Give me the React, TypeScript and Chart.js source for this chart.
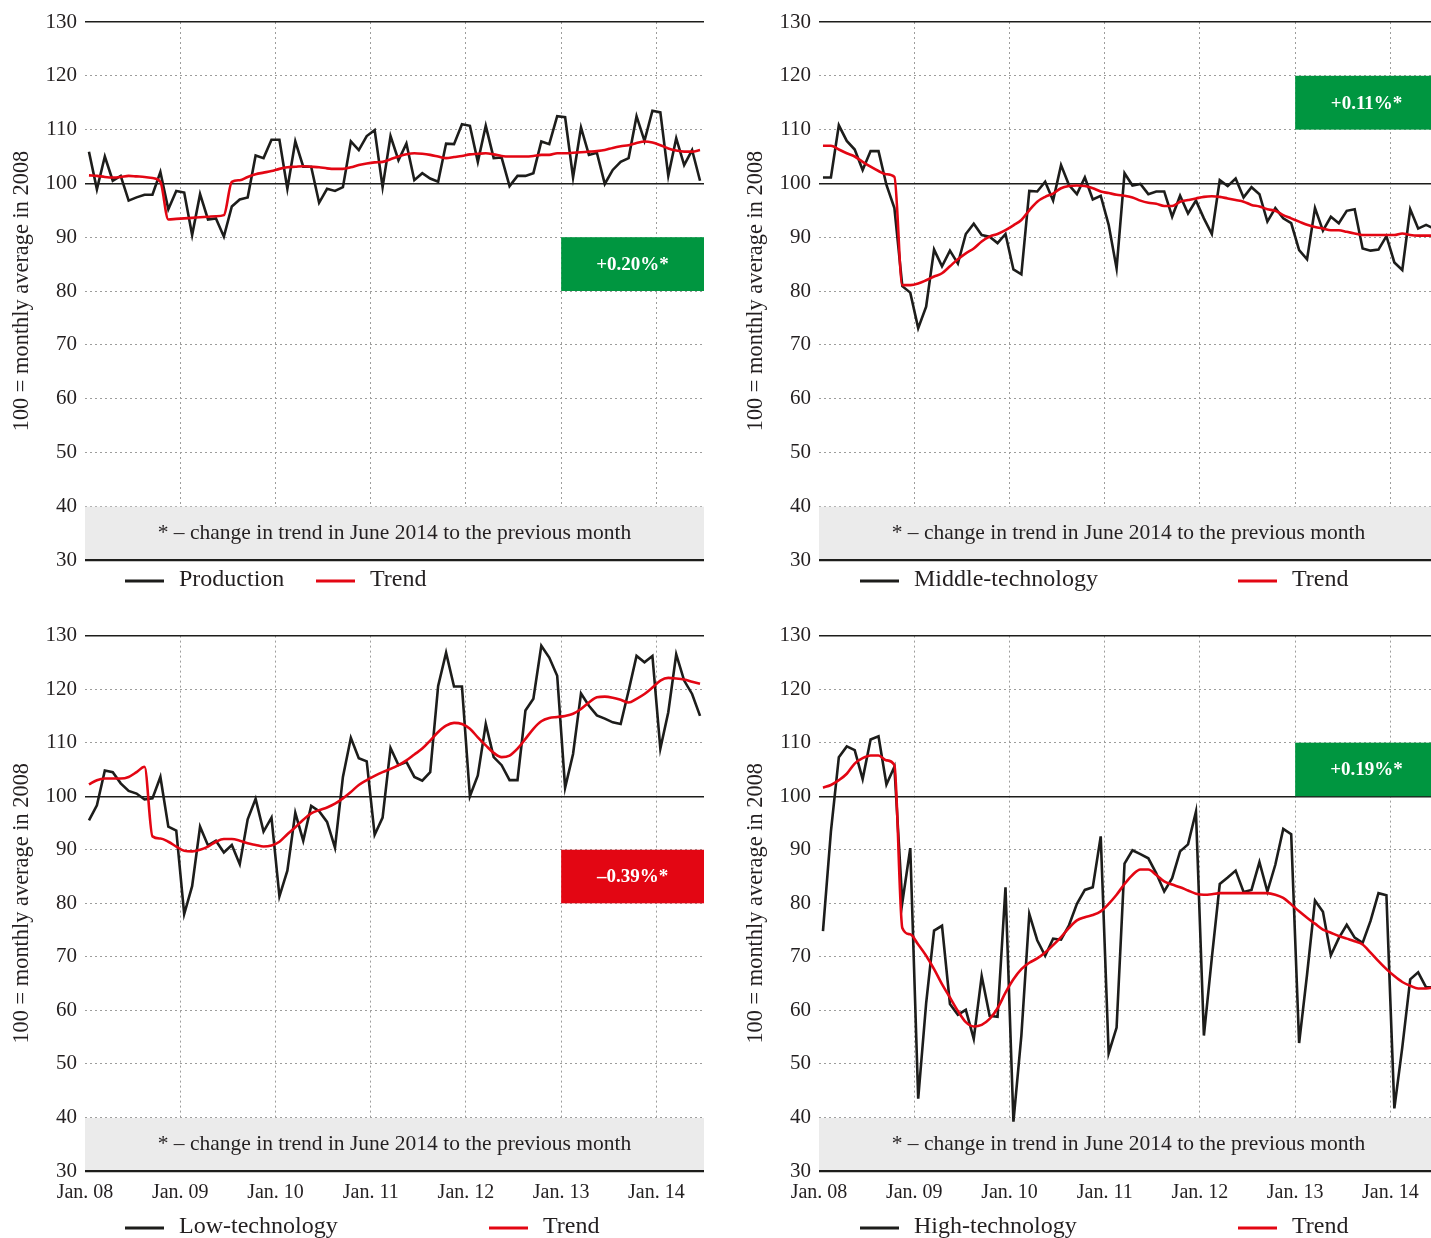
import React, { useEffect, useRef } from 'react';
import { Chart, registerables } from 'chart.js';

Chart.register(...registerables);

const FONT = "'Liberation Serif', 'Times New Roman', Times, serif";
const INK = '#231f20';
const LINE_BLACK = '#1d1d1b';
const LINE_RED = '#e30613';
const GREEN = '#009640';
const GRID = '#9d9d9c';

// ---------- axis definitions ----------
const X_TICK_POSITIONS = [0, 12, 24, 36, 48, 60, 72];
const X_TICK_LABELS = ['Jan. 08', 'Jan. 09', 'Jan. 10', 'Jan. 11', 'Jan. 12', 'Jan. 13', 'Jan. 14'];
const X_MAX = 78; // months Jan 2008 .. Jun 2014
const Y_MIN = 30;
const Y_MAX = 130;
const Y_STEP = 10;
const Y_AXIS_TITLE = '100 = monthly average in 2008';
const FOOTNOTE = '* – change in trend in June 2014 to the previous month';
const TREND_NAME = 'Trend';

// ---------- series (monthly, Jan 2008 .. Jun 2014) ----------
const PRODUCTION = [
  105.9, 98.9, 105.0, 100.5, 101.4, 96.8, 97.4, 97.9, 97.9, 102.1, 95.2, 98.6,
  98.3, 90.4, 98.0, 93.3, 93.5, 90.1, 95.7, 97.0, 97.4, 105.2, 104.7, 108.1,
  108.1, 99.0, 107.8, 103.1, 103.1, 96.4, 99.0, 98.6, 99.3, 107.8, 106.2, 108.8,
  109.9, 99.3, 108.8, 104.3, 107.4, 100.6, 101.9, 100.9, 100.3, 107.4, 107.3, 111.0,
  110.7, 104.0, 110.7, 104.7, 104.8, 99.5, 101.4, 101.4, 101.9, 107.8, 107.3, 112.5,
  112.3, 101.1, 110.4, 105.3, 105.7, 99.9, 102.5, 104.0, 104.7, 112.5, 107.9, 113.5,
  113.2, 101.4, 108.4, 103.4, 106.2, 100.5,
];
const PRODUCTION_TREND = [
  101.5, 101.4, 101.2, 101.1, 101.2, 101.4, 101.3, 101.2, 101.0, 100.3, 93.3, 93.4,
  93.5, 93.6, 93.7, 93.8, 93.9, 94.1, 100.3, 100.6, 101.2, 101.7, 102.0, 102.3,
  102.7, 103.0, 103.1, 103.2, 103.1, 103.0, 102.8, 102.7, 102.7, 103.0, 103.4, 103.7,
  103.9, 104.0, 104.5, 105.0, 105.4, 105.6, 105.5, 105.3, 105.0, 104.7, 104.9, 105.1,
  105.4, 105.5, 105.6, 105.4, 105.1, 105.0, 105.0, 105.0, 105.1, 105.3, 105.3, 105.6,
  105.6, 105.7, 105.8, 105.9, 106.0, 106.2, 106.6, 106.9, 107.1, 107.5, 107.8, 107.6,
  107.1, 106.5, 106.1, 105.9, 105.9, 106.2,
];
const MIDDLE_TECH = [
  101.1, 101.1, 110.8, 107.9, 106.3, 102.5, 106.0, 106.0, 99.7, 95.4, 80.9, 79.7,
  73.1, 77.1, 87.7, 84.6, 87.5, 85.1, 90.6, 92.5, 90.4, 90.1, 88.9, 90.6,
  84.0, 83.1, 98.6, 98.5, 100.3, 96.8, 103.4, 99.7, 98.0, 101.1, 97.0, 97.7,
  92.3, 84.2, 101.9, 99.6, 99.9, 98.0, 98.5, 98.5, 93.8, 97.7, 94.4, 96.8,
  93.5, 90.6, 100.6, 99.5, 100.9, 97.4, 99.3, 98.0, 92.9, 95.4, 93.5, 92.6,
  87.6, 85.9, 95.4, 91.2, 93.8, 92.6, 94.9, 95.2, 87.9, 87.5, 87.7, 90.2,
  85.3, 83.9, 95.2, 91.6, 92.3, 91.6,
];
const MIDDLE_TREND = [
  107.0, 107.0, 106.3, 105.6, 105.0, 104.0, 103.1, 102.3, 101.7, 101.2, 81.1, 81.1,
  81.4, 82.0, 82.7, 83.3, 84.6, 85.9, 87.0, 87.9, 89.2, 90.1, 90.6, 91.3,
  92.2, 93.2, 95.0, 96.6, 97.5, 98.1, 99.1, 99.5, 99.6, 99.5, 99.1, 98.5,
  98.2, 97.9, 97.7, 97.4, 96.8, 96.4, 96.2, 95.8, 95.8, 96.6, 96.9, 97.2,
  97.5, 97.6, 97.5, 97.2, 96.9, 96.6, 96.0, 95.7, 95.2, 94.9, 94.1, 93.5,
  92.9, 92.3, 91.9, 91.6, 91.3, 91.3, 91.0, 90.7, 90.4, 90.4, 90.4, 90.4,
  90.4, 90.7, 90.4, 90.3, 90.3, 90.3,
];
const LOW_TECH = [
  95.5, 98.3, 104.8, 104.5, 102.4, 101.0, 100.5, 99.4, 99.6, 103.6, 94.3, 93.6,
  78.0, 83.2, 94.3, 90.8, 91.7, 89.5, 90.9, 87.3, 95.7, 99.5, 93.4, 96.0,
  81.3, 86.1, 96.9, 91.7, 98.2, 97.2, 95.2, 90.4, 103.6, 110.9, 107.1, 106.5,
  92.8, 96.0, 109.0, 105.8, 106.4, 103.6, 102.9, 104.5, 120.6, 126.8, 120.5, 120.5,
  100.0, 103.9, 113.5, 107.3, 105.8, 103.0, 103.0, 116.0, 118.2, 128.1, 125.9, 122.5,
  101.6, 107.9, 119.2, 116.9, 115.1, 114.5, 113.8, 113.5, 119.7, 126.2, 125.0, 126.2,
  108.9, 115.7, 126.5, 121.6, 119.1, 115.0,
];
const LOW_TREND = [
  102.2, 103.0, 103.3, 103.3, 103.3, 103.6, 104.5, 105.5, 92.5, 92.1, 91.5, 90.6,
  89.8, 89.7, 90.0, 90.6, 91.5, 92.0, 92.0, 91.7, 91.2, 90.9, 90.6, 90.8,
  91.5, 92.9, 94.2, 95.6, 96.8, 97.4, 97.9, 98.6, 99.6, 100.8, 102.1, 103.0,
  103.8, 104.5, 105.1, 105.8, 106.7, 107.8, 108.9, 110.4, 112.0, 113.2, 113.7, 113.5,
  112.6, 111.0, 109.5, 108.1, 107.3, 107.6, 108.9, 110.7, 112.6, 114.0, 114.6, 114.8,
  115.0, 115.4, 116.3, 117.5, 118.5, 118.6, 118.4, 118.0, 117.5, 118.2, 119.1, 120.3,
  121.6, 122.1, 122.0, 121.8, 121.4, 121.0,
];
const HIGH_TECH = [
  74.8, 93.4, 107.3, 109.3, 108.6, 103.2, 110.6, 111.2, 102.2, 105.5, 80.1, 90.3,
  43.5, 61.3, 74.9, 75.8, 61.2, 59.2, 60.1, 54.7, 66.4, 59.0, 58.8, 83.0,
  39.2, 55.3, 78.0, 73.1, 70.2, 73.4, 73.2, 75.9, 79.9, 82.5, 83.0, 92.5,
  52.0, 56.8, 87.4, 89.9, 89.2, 88.4, 85.6, 82.2, 84.7, 89.7, 91.0, 97.1,
  55.3, 69.8, 83.6, 84.8, 86.1, 82.1, 82.5, 87.7, 82.2, 87.2, 93.9, 92.9,
  53.9, 66.7, 80.5, 78.4, 70.3, 73.5, 76.0, 73.6, 72.6, 76.7, 81.9, 81.5,
  41.7, 53.1, 65.8, 67.1, 64.3, 64.3,
];
const HIGH_TREND = [
  101.6, 102.1, 103.0, 104.2, 106.1, 107.1, 107.6, 107.6, 106.7, 105.8, 75.4, 74.2,
  72.3, 70.2, 67.7, 64.9, 62.4, 59.9, 57.8, 57.0, 57.3, 58.4, 60.4, 63.3,
  65.8, 67.7, 68.9, 69.7, 70.8, 72.2, 73.7, 75.4, 76.8, 77.4, 77.8, 78.5,
  79.9, 81.6, 83.6, 85.3, 86.3, 86.3, 85.3, 84.1, 83.5, 83.0, 82.4, 81.8,
  81.6, 81.7, 81.9, 81.9, 81.9, 81.9, 81.9, 81.9, 81.9, 81.6, 81.0, 79.8,
  78.5, 77.3, 76.2, 75.1, 74.5, 73.9, 73.4, 72.9, 72.3, 70.8, 69.2, 67.7,
  66.4, 65.3, 64.6, 64.1, 64.1, 64.3,
];

// badges: label, range on y, start/end month on x
const BADGE_LABELS = ['+0.20%*', '+0.11%*', '–0.39%*', '+0.19%*'];
const BADGE_Y_RANGES = [[80, 90], [110, 120], [80, 90], [100, 110]];
const BADGE_X_RANGE = [60, 78];
const FOOT_BOX_RANGE = [30, 40];

type Legend = { y: number; s1: [number, number]; t1: number; s2: [number, number]; t2: number };
type PanelProps = {
  left: number; top: number; width: number; height: number;
  pad: { left: number; right: number; top: number; bottom: number };
  xHeight: number;
  showX: boolean;
  seriesName: string;
  series: number[];
  trend: number[];
  badgeText: string;
  badgeColor: string;
  badgeRange: number[];
  legend: Legend;
};

function Panel(p: PanelProps) {
  const ref = useRef<HTMLCanvasElement>(null);
  useEffect(() => {
    const canvas = ref.current;
    if (!canvas) return;
    const special = (v: number) => v === 30 || v === 100 || v === 130;

    const overlay = {
      id: 'overlay',
      beforeDatasetsDraw(chart: any) {
        const { ctx, chartArea, scales } = chart;
        const yTop = scales.y.getPixelForValue(FOOT_BOX_RANGE[1]);
        const yBot = scales.y.getPixelForValue(FOOT_BOX_RANGE[0]);
        ctx.save();
        ctx.fillStyle = '#ebebeb';
        ctx.fillRect(chartArea.left, yTop + 0.5, chartArea.right - chartArea.left, yBot - yTop - 1.5);
        ctx.fillStyle = INK;
        ctx.font = `21.5px ${FONT}`;
        ctx.textAlign = 'center';
        ctx.textBaseline = 'middle';
        ctx.fillText(FOOTNOTE, (chartArea.left + chartArea.right) / 2, (yTop + yBot) / 2);
        ctx.restore();
      },
      afterDatasetsDraw(chart: any) {
        const { ctx, scales } = chart;
        const x0 = scales.x.getPixelForValue(BADGE_X_RANGE[0]);
        const x1 = scales.x.getPixelForValue(BADGE_X_RANGE[1]);
        const y0 = scales.y.getPixelForValue(p.badgeRange[1]);
        const y1 = scales.y.getPixelForValue(p.badgeRange[0]);
        ctx.save();
        ctx.fillStyle = p.badgeColor;
        ctx.fillRect(x0, y0, x1 - x0, y1 - y0);
        ctx.fillStyle = '#ffffff';
        ctx.font = `bold 19px ${FONT}`;
        ctx.textAlign = 'center';
        ctx.textBaseline = 'middle';
        ctx.fillText(p.badgeText, (x0 + x1) / 2, (y0 + y1) / 2 + 1);
        ctx.restore();
      },
      afterDraw(chart: any) {
        const { ctx } = chart;
        const L = p.legend;
        ctx.save();
        ctx.lineWidth = 3;
        ctx.strokeStyle = LINE_BLACK;
        ctx.beginPath();
        ctx.moveTo(L.s1[0], L.y + 1);
        ctx.lineTo(L.s1[1], L.y + 1);
        ctx.stroke();
        ctx.strokeStyle = LINE_RED;
        ctx.beginPath();
        ctx.moveTo(L.s2[0], L.y + 1);
        ctx.lineTo(L.s2[1], L.y + 1);
        ctx.stroke();
        ctx.fillStyle = INK;
        ctx.font = `24px ${FONT}`;
        ctx.textAlign = 'left';
        ctx.textBaseline = 'middle';
        ctx.fillText(p.seriesName, L.t1, L.y);
        ctx.fillText(TREND_NAME, L.t2, L.y);
        ctx.restore();
      },
    };

    const chart = new Chart(canvas, {
      type: 'line',
      data: {
        datasets: [
          {
            label: p.seriesName,
            data: p.series.map((v, i) => ({ x: i + 0.5, y: v })),
            borderColor: LINE_BLACK,
            borderWidth: 2.6,
            pointRadius: 0,
            tension: 0,
            order: 2,
          },
          {
            label: TREND_NAME,
            data: p.trend.map((v, i) => ({ x: i + 0.5, y: v })),
            borderColor: LINE_RED,
            borderWidth: 2.6,
            pointRadius: 0,
            cubicInterpolationMode: 'monotone',
            order: 1,
          },
        ],
      },
      options: {
        animation: false,
        responsive: false,
        maintainAspectRatio: false,
        devicePixelRatio: 1,
        layout: { padding: p.pad },
        plugins: { legend: { display: false }, tooltip: { enabled: false } },
        scales: {
          x: {
            type: 'linear',
            min: 0,
            max: X_MAX,
            afterBuildTicks: (s: any) => {
              s.ticks = X_TICK_POSITIONS.map((v) => ({ value: v }));
            },
            afterFit: (s: any) => {
              s.height = p.xHeight;
            },
            ticks: {
              display: p.showX,
              autoSkip: false,
              maxRotation: 0,
              padding: 10,
              color: INK,
              font: { family: FONT, size: 20 },
              callback: (v: any) => X_TICK_LABELS[X_TICK_POSITIONS.indexOf(Number(v))] ?? '',
            },
            grid: {
              drawTicks: false,
              color: (c: any) => (c.tick && c.tick.value === 0 ? 'rgba(0,0,0,0)' : GRID),
              lineWidth: 1,
            },
            border: { display: false, dash: [2, 3] },
          },
          y: {
            type: 'linear',
            min: Y_MIN,
            max: Y_MAX,
            afterFit: (s: any) => {
              s.width = 85;
            },
            ticks: {
              stepSize: Y_STEP,
              padding: 8,
              color: INK,
              font: { family: FONT, size: 21 },
            },
            title: {
              display: true,
              text: Y_AXIS_TITLE,
              color: INK,
              font: { family: FONT, size: 22.4 },
              padding: { top: 9, bottom: 0 },
            },
            grid: {
              drawTicks: false,
              color: (c: any) => (c.tick && special(c.tick.value) ? LINE_BLACK : GRID),
              lineWidth: (c: any) =>
                c.tick && c.tick.value === 30 ? 2.2 : c.tick && special(c.tick.value) ? 1.4 : 1,
            },
            border: {
              display: false,
              dash: (c: any) => (c.tick && special(c.tick.value) ? [] : [2, 3]),
            },
          },
        },
      } as any,
      plugins: [overlay],
    });
    return () => chart.destroy();
  }, []);

  return (
    <canvas
      ref={ref}
      width={p.width}
      height={p.height}
      style={{ position: 'absolute', left: p.left, top: p.top, width: p.width, height: p.height, display: 'block' }}
    />
  );
}

export default function App() {
  useEffect(() => {
    document.documentElement.style.overflow = 'hidden';
  }, []);
  return (
    <div
      style={{
        position: 'absolute',
        left: 0,
        top: 0,
        width: 1431,
        height: 1238,
        overflow: 'hidden',
        background: '#ffffff',
      }}
    >
      <Panel
        left={0}
        top={0}
        width={715}
        height={615}
        pad={{ left: 0, right: 11, top: 22, bottom: 55 }}
        xHeight={0}
        showX={false}
        seriesName="Production"
        series={PRODUCTION}
        trend={PRODUCTION_TREND}
        badgeText={BADGE_LABELS[0]}
        badgeColor={GREEN}
        badgeRange={BADGE_Y_RANGES[0]}
        legend={{ y: 580, s1: [125, 164], t1: 179, s2: [316, 355], t2: 370 }}
      />
      <Panel
        left={715}
        top={0}
        width={730}
        height={615}
        pad={{ left: 19, right: 7, top: 22, bottom: 55 }}
        xHeight={0}
        showX={false}
        seriesName="Middle-technology"
        series={MIDDLE_TECH}
        trend={MIDDLE_TREND}
        badgeText={BADGE_LABELS[1]}
        badgeColor={GREEN}
        badgeRange={BADGE_Y_RANGES[1]}
        legend={{ y: 580, s1: [145, 184], t1: 199, s2: [523, 562], t2: 577 }}
      />
      <Panel
        left={0}
        top={615}
        width={715}
        height={623}
        pad={{ left: 0, right: 11, top: 18, bottom: 27 }}
        xHeight={40}
        showX={true}
        seriesName="Low-technology"
        series={LOW_TECH}
        trend={LOW_TREND}
        badgeText={BADGE_LABELS[2]}
        badgeColor={LINE_RED}
        badgeRange={BADGE_Y_RANGES[2]}
        legend={{ y: 612, s1: [125, 164], t1: 179, s2: [489, 528], t2: 543 }}
      />
      <Panel
        left={715}
        top={615}
        width={730}
        height={623}
        pad={{ left: 19, right: 7, top: 18, bottom: 27 }}
        xHeight={40}
        showX={true}
        seriesName="High-technology"
        series={HIGH_TECH}
        trend={HIGH_TREND}
        badgeText={BADGE_LABELS[3]}
        badgeColor={GREEN}
        badgeRange={BADGE_Y_RANGES[3]}
        legend={{ y: 612, s1: [145, 184], t1: 199, s2: [523, 562], t2: 577 }}
      />
    </div>
  );
}
